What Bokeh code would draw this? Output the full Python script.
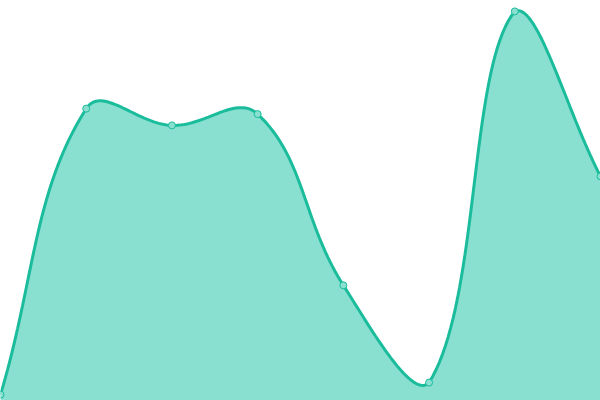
from bokeh.plotting import figure
from bokeh.models import Range1d, ColumnDataSource
from bokeh.embed import file_html
from bokeh.resources import INLINE

# data
days = [0, 1, 2, 3, 4, 5, 6, 7]
values = [1.5, 75.0, 70.7, 73.6, 29.6, 4.6, 100.0, 57.6]

line_color = "#1abc9c"
area_color = "#89e0d0"
W, H = 600, 400
x_max = 7
y_max = 102.8


def smooth_curve(xs, ys, tension=0.4, steps=40):
    # cardinal bezier spline, distances in screen pixels, control points kept inside the plot
    sx = W / x_max
    sy = H / y_max
    n = len(xs)
    cps = []
    for i in range(n):
        pi = max(i - 1, 0)
        ni = min(i + 1, n - 1)
        d01 = (((xs[i] - xs[pi]) * sx) ** 2 + ((ys[i] - ys[pi]) * sy) ** 2) ** 0.5
        d12 = (((xs[ni] - xs[i]) * sx) ** 2 + ((ys[ni] - ys[i]) * sy) ** 2) ** 0.5
        tot = d01 + d12
        s01 = d01 / tot if tot else 0
        s12 = d12 / tot if tot else 0
        fa = tension * s01
        fb = tension * s12
        vx = xs[ni] - xs[pi]
        vy = ys[ni] - ys[pi]
        before = (xs[i] - fa * vx, ys[i] - fa * vy)
        after = (xs[i] + fb * vx, ys[i] + fb * vy)
        clamp = lambda q: (min(max(q[0], 0), x_max), min(max(q[1], 0), y_max))
        cps.append((clamp(before), clamp(after)))
    out_x, out_y = [], []
    for i in range(n - 1):
        p0 = (xs[i], ys[i])
        p1 = cps[i][1]
        p2 = cps[i + 1][0]
        p3 = (xs[i + 1], ys[i + 1])
        for k in range(steps + (1 if i == n - 2 else 0)):
            t = k / steps
            a = (1 - t) ** 3
            b = 3 * (1 - t) ** 2 * t
            c = 3 * (1 - t) * t ** 2
            d = t ** 3
            out_x.append(a * p0[0] + b * p1[0] + c * p2[0] + d * p3[0])
            out_y.append(a * p0[1] + b * p1[1] + c * p2[1] + d * p3[1])
    return out_x, out_y


cx, cy = smooth_curve(days, values)
curve = ColumnDataSource(dict(x=cx, y=cy, y0=[0] * len(cx)))
pts = ColumnDataSource(dict(x=days, y=values))

p = figure(width=W, height=H, output_backend="svg", toolbar_location=None,
           x_range=Range1d(0, x_max), y_range=Range1d(0, y_max),
           min_border=0, outline_line_color=None)
p.axis.visible = False
p.grid.visible = False
p.background_fill_color = "white"

p.varea(x="x", y1="y0", y2="y", source=curve, fill_color=area_color)
p.line("x", "y", source=curve, line_color=line_color, line_width=3)
p.scatter("x", "y", source=pts, size=7, fill_color=area_color, line_color=line_color, line_width=1)

open("out.html", "w").write(file_html(p, INLINE))
